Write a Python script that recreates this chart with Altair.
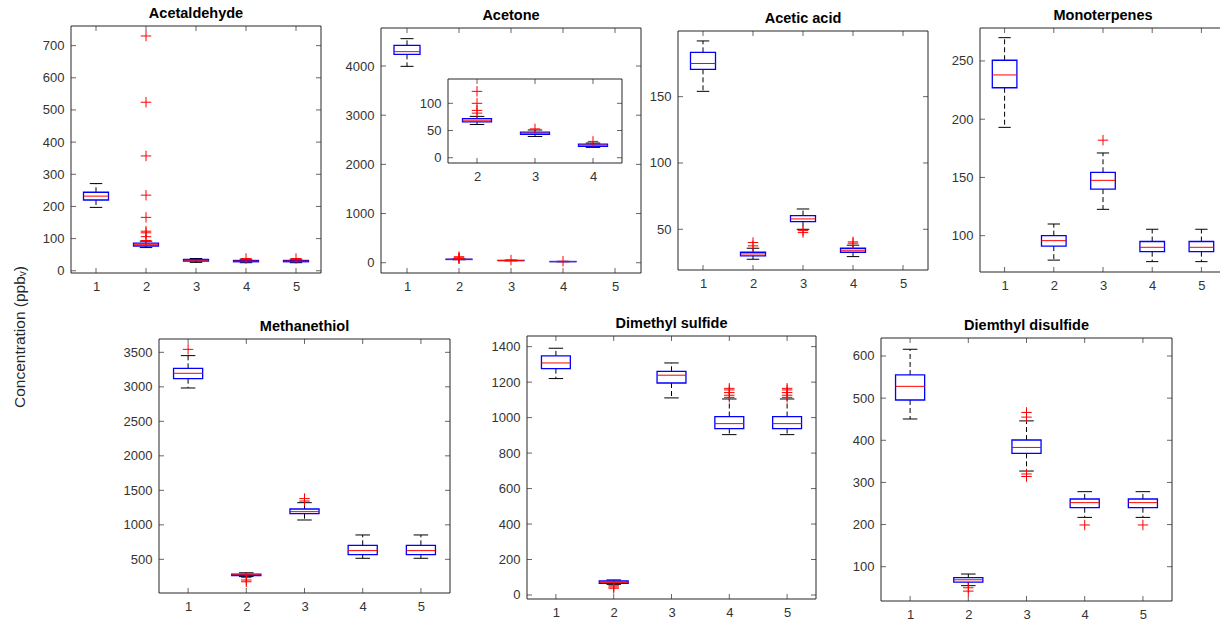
import altair as alt
import pandas as pd

W, H = 1220, 627
FONT = "Liberation Sans"
AXC = "#262626"
LABC = "#333333"
BLUE = "#0000FF"
RED = "#FF0000"
CROSS = "M-1,0L1,0M0,-1L0,1"

# ---------------- data ----------------
acetaldehyde_groups = [1, 2, 3, 4, 5]
acetaldehyde_q1 = [220, 77, 30, 28, 28]
acetaldehyde_med = [232, 81, 33, 30, 30]
acetaldehyde_q3 = [244, 86, 35, 32, 32]
acetaldehyde_lo = [197, 72, 26, 25, 25]
acetaldehyde_hi = [271, 92, 38, 36, 36]
acetaldehyde_out_g = [2, 2, 2, 2, 2, 2, 2, 2, 2, 4, 5]
acetaldehyde_out_v = [730, 524, 357, 235, 166, 123, 118, 106, 94, 38, 38]

acetone_groups = [1, 2, 3, 4]
acetone_q1 = [4237, 66, 43, 21]
acetone_med = [4292, 69, 45, 23]
acetone_q3 = [4420, 72, 47, 25]
acetone_lo = [3993, 61, 39, 19]
acetone_hi = [4556, 76, 51, 27]
acetone_out_g = [2, 2, 2, 2, 3, 4]
acetone_out_v = [122, 100, 87, 82, 53, 30]

acetic_groups = [1, 2, 3, 4]
acetic_q1 = [170.6, 30.0, 55.8, 32.7]
acetic_med = [175.0, 31.4, 57.8, 34.2]
acetic_q3 = [183.4, 32.7, 60.3, 35.7]
acetic_lo = [154.0, 27.4, 50.0, 29.4]
acetic_hi = [192.0, 35.7, 65.3, 38.0]
acetic_out_g = [2, 2, 3, 3, 4, 4]
acetic_out_v = [40.0, 37.5, 49.0, 47.5, 39.5, 40.5]

monoterpenes_groups = [1, 2, 3, 4, 5]
monoterpenes_q1 = [227, 91, 140, 86.3, 86.3]
monoterpenes_med = [238, 95.7, 147.5, 90, 90]
monoterpenes_q3 = [250.6, 100, 154.4, 95, 95]
monoterpenes_lo = [193, 79, 122.6, 77.7, 77.7]
monoterpenes_hi = [270, 110, 171, 105.5, 105.5]
monoterpenes_out_g = [3]
monoterpenes_out_v = [182]

methanethiol_groups = [1, 2, 3, 4, 5]
methanethiol_q1 = [3118, 265, 1162, 568, 568]
methanethiol_med = [3196, 275, 1191, 626, 626]
methanethiol_q3 = [3268, 285, 1229, 703, 703]
methanethiol_lo = [2983, 250, 1070, 515, 515]
methanethiol_hi = [3452, 305, 1321, 853, 853]
methanethiol_out_g = [1, 2, 2, 2, 3, 3]
methanethiol_out_v = [3543, 235, 200, 175, 1345, 1380]

dms_groups = [1, 2, 3, 4, 5]
dms_q1 = [1276, 66, 1195, 938, 938]
dms_med = [1308, 71, 1239, 966, 966]
dms_q3 = [1348, 79, 1261, 1006, 1006]
dms_lo = [1220, 60, 1111, 904, 904]
dms_hi = [1391, 85, 1308, 1105, 1105]
dms_out_g = [2, 2, 2, 4, 4, 4, 4, 4, 5, 5, 5, 5, 5]
dms_out_v = [52, 45, 38, 1114, 1126, 1141, 1156, 1165, 1114, 1126, 1141, 1156, 1165]

dmds_groups = [1, 2, 3, 4, 5]
dmds_q1 = [495.6, 63.6, 369, 240, 240]
dmds_med = [528, 69, 383, 252, 252]
dmds_q3 = [555, 74, 400.6, 260.6, 260.6]
dmds_lo = [450.5, 55, 327, 217, 217]
dmds_hi = [616, 82.6, 446, 278, 278]
dmds_out_g = [2, 2, 3, 3, 3, 3, 4, 5]
dmds_out_v = [50, 42, 466, 455, 320, 314, 199, 199]

x_ticks = [1, 2, 3, 4, 5]
inset_x_ticks = [2, 3, 4]
y_label = "Concentration (ppbᵥ)"


def panel(name, groups, q1, med, q3, lo, hi, out_g, out_v,
          xdom, xr, ydom, yr, yticks, xticks, bg=False, show_title=True):
    xs = alt.Scale(domain=xdom, range=xr, nice=False, zero=False)
    ys = alt.Scale(domain=ydom, range=yr, nice=False, zero=False)
    common = dict(grid=False, domain=False, ticks=False, tickSize=0, labelPadding=7,
                  labelFont=FONT, labelFontSize=13, labelColor=LABC, title=None,
                  labelFlush=False, labelOverlap=False, format="d")
    xaxis = alt.Axis(orient="bottom", offset=yr[0] - H, values=xticks, **common)
    yaxis = alt.Axis(orient="left", offset=-xr[0], values=yticks, **common)
    dummy = pd.DataFrame({"a": [0]})

    def X(f, axis=None):
        return alt.X(f, type="quantitative", scale=xs, axis=axis)

    def Y(f, axis=None):
        return alt.Y(f, type="quantitative", scale=ys, axis=axis)

    def XD(v):
        return alt.XDatum(v, type="quantitative", scale=xs, axis=None)

    def YD(v):
        return alt.YDatum(v, type="quantitative", scale=ys, axis=None)

    frame = alt.Chart(dummy).mark_rect(
        fill="white" if bg else "transparent", stroke=AXC, strokeWidth=1
    ).encode(x=XD(xdom[0]), x2=alt.X2Datum(xdom[1]),
             y=YD(ydom[0]), y2=alt.Y2Datum(ydom[1]))

    xt = pd.DataFrame({"t": xticks})
    yt = pd.DataFrame({"t": yticks})
    tk = dict(color=AXC, size=5, thickness=1)
    tick_b = alt.Chart(xt).mark_tick(orient="vertical", yOffset=-2.5, **tk).encode(
        x=X("t", xaxis), y=YD(ydom[0]))
    tick_t = alt.Chart(xt).mark_tick(orient="vertical", yOffset=2.5, **tk).encode(
        x=X("t"), y=YD(ydom[1]))
    tick_l = alt.Chart(yt).mark_tick(orient="horizontal", xOffset=2.5, **tk).encode(
        y=Y("t", yaxis), x=XD(xdom[0]))
    tick_r = alt.Chart(yt).mark_tick(orient="horizontal", xOffset=-2.5, **tk).encode(
        y=Y("t"), x=XD(xdom[1]))

    box_df = pd.DataFrame({"g": groups, "q1": q1, "med": med, "q3": q3, "lo": lo, "hi": hi})
    base = alt.Chart(box_df).transform_calculate(
        xl="datum.g - 0.25", xr="datum.g + 0.25",
        cl="datum.g - 0.125", cr="datum.g + 0.125")

    wh_up = base.mark_rule(color="black", strokeWidth=1, strokeDash=[5, 3]).encode(
        x=X("g"), y=Y("q3"), y2="hi")
    wh_dn = base.mark_rule(color="black", strokeWidth=1, strokeDash=[5, 3]).encode(
        x=X("g"), y=Y("q1"), y2="lo")
    cap_up = base.mark_rule(color="black", strokeWidth=1).encode(
        x=X("cl"), x2="cr", y=Y("hi"))
    cap_dn = base.mark_rule(color="black", strokeWidth=1).encode(
        x=X("cl"), x2="cr", y=Y("lo"))
    box = base.mark_rect(fillOpacity=0, stroke=BLUE, strokeWidth=1.3).encode(
        x=X("xl"), x2="xr", y=Y("q1"), y2="q3")
    median = base.mark_rule(color=RED, strokeWidth=1).encode(
        x=X("xl"), x2="xr", y=Y("med"))

    out_df = pd.DataFrame({"g": out_g, "v": out_v})
    outl = alt.Chart(out_df).mark_point(
        shape=CROSS, size=110, filled=False, stroke=RED, strokeWidth=1, opacity=1
    ).encode(x=X("g"), y=Y("v"))

    layers = [frame, tick_b, tick_t, tick_l, tick_r, wh_up, wh_dn, cap_up, cap_dn,
              box, median, outl]
    if show_title:
        title = alt.Chart(dummy).mark_text(
            font=FONT, fontSize=14.5, fontWeight="bold", color="black",
            baseline="alphabetic", dy=-8
        ).encode(
            x=XD((xdom[0] + xdom[1]) / 2),
            y=YD(ydom[1]),
            text=alt.value(name),
        )
        layers.append(title)
    return alt.layer(*layers).resolve_axis(x="independent", y="independent")


p1 = panel("Acetaldehyde", acetaldehyde_groups, acetaldehyde_q1, acetaldehyde_med,
           acetaldehyde_q3, acetaldehyde_lo, acetaldehyde_hi,
           acetaldehyde_out_g, acetaldehyde_out_v,
           [0.5, 5.5], [71, 321], [-7, 761], [273, 26],
           [0, 100, 200, 300, 400, 500, 600, 700], x_ticks)
p2 = panel("Acetone", acetone_groups, acetone_q1, acetone_med, acetone_q3,
           acetone_lo, acetone_hi, acetone_out_g, acetone_out_v,
           [0.5, 5.5], [381, 641], [-209, 4773], [273, 28],
           [0, 1000, 2000, 3000, 4000], x_ticks)
inset_idx = [i for i, g in enumerate(acetone_groups) if g >= 2]
inset_out = [i for i, g in enumerate(acetone_out_g) if g >= 2]
p2i = panel("", [acetone_groups[i] for i in inset_idx],
            [acetone_q1[i] for i in inset_idx], [acetone_med[i] for i in inset_idx],
            [acetone_q3[i] for i in inset_idx], [acetone_lo[i] for i in inset_idx],
            [acetone_hi[i] for i in inset_idx],
            [acetone_out_g[i] for i in inset_out], [acetone_out_v[i] for i in inset_out],
            [1.5, 4.5], [448, 622], [-9.7, 144.7], [163, 79],
            [0, 50, 100], inset_x_ticks, bg=True, show_title=False)
p3 = panel("Acetic acid", acetic_groups, acetic_q1, acetic_med, acetic_q3,
           acetic_lo, acetic_hi, acetic_out_g, acetic_out_v,
           [0.5, 5.5], [678, 928], [19.3, 199.5], [270, 31],
           [50, 100, 150], x_ticks)
p4 = panel("Monoterpenes", monoterpenes_groups, monoterpenes_q1, monoterpenes_med,
           monoterpenes_q3, monoterpenes_lo, monoterpenes_hi,
           monoterpenes_out_g, monoterpenes_out_v,
           [0.5, 5.5], [980, 1226], [68.8, 278.3], [272, 28],
           [100, 150, 200, 250], x_ticks)
p5 = panel("Methanethiol", methanethiol_groups, methanethiol_q1, methanethiol_med,
           methanethiol_q3, methanethiol_lo, methanethiol_hi,
           methanethiol_out_g, methanethiol_out_v,
           [0.5, 5.5], [159, 450], [12, 3693], [593, 339],
           [500, 1000, 1500, 2000, 2500, 3000, 3500], x_ticks)
p6 = panel("Dimethyl sulfide", dms_groups, dms_q1, dms_med, dms_q3, dms_lo, dms_hi,
           dms_out_g, dms_out_v,
           [0.5, 5.5], [527, 816], [-22.6, 1460], [599, 336],
           [0, 200, 400, 600, 800, 1000, 1200, 1400], x_ticks)
p7 = panel("Diemthyl disulfide", dmds_groups, dmds_q1, dmds_med, dmds_q3, dmds_lo,
           dmds_hi, dmds_out_g, dmds_out_v,
           [0.5, 5.5], [881, 1172], [18.6, 642.7], [601, 338],
           [100, 200, 300, 400, 500, 600], x_ticks)

ylab = alt.Chart(pd.DataFrame({"t": [y_label]})).mark_text(
    font=FONT, fontSize=15.5, color=AXC, angle=270, align="center", baseline="middle"
).encode(text="t:N", x=alt.value(20), y=alt.value(337))

chart = alt.layer(p1, p2, p2i, p3, p4, p5, p6, p7, ylab).resolve_scale(
    x="independent", y="independent"
).resolve_axis(
    x="independent", y="independent"
).properties(
    width=W, height=H, padding=0, autosize="none", background="white"
).configure_view(stroke=None)

chart.save("out.html", embed_options={"renderer": "svg", "actions": False})
